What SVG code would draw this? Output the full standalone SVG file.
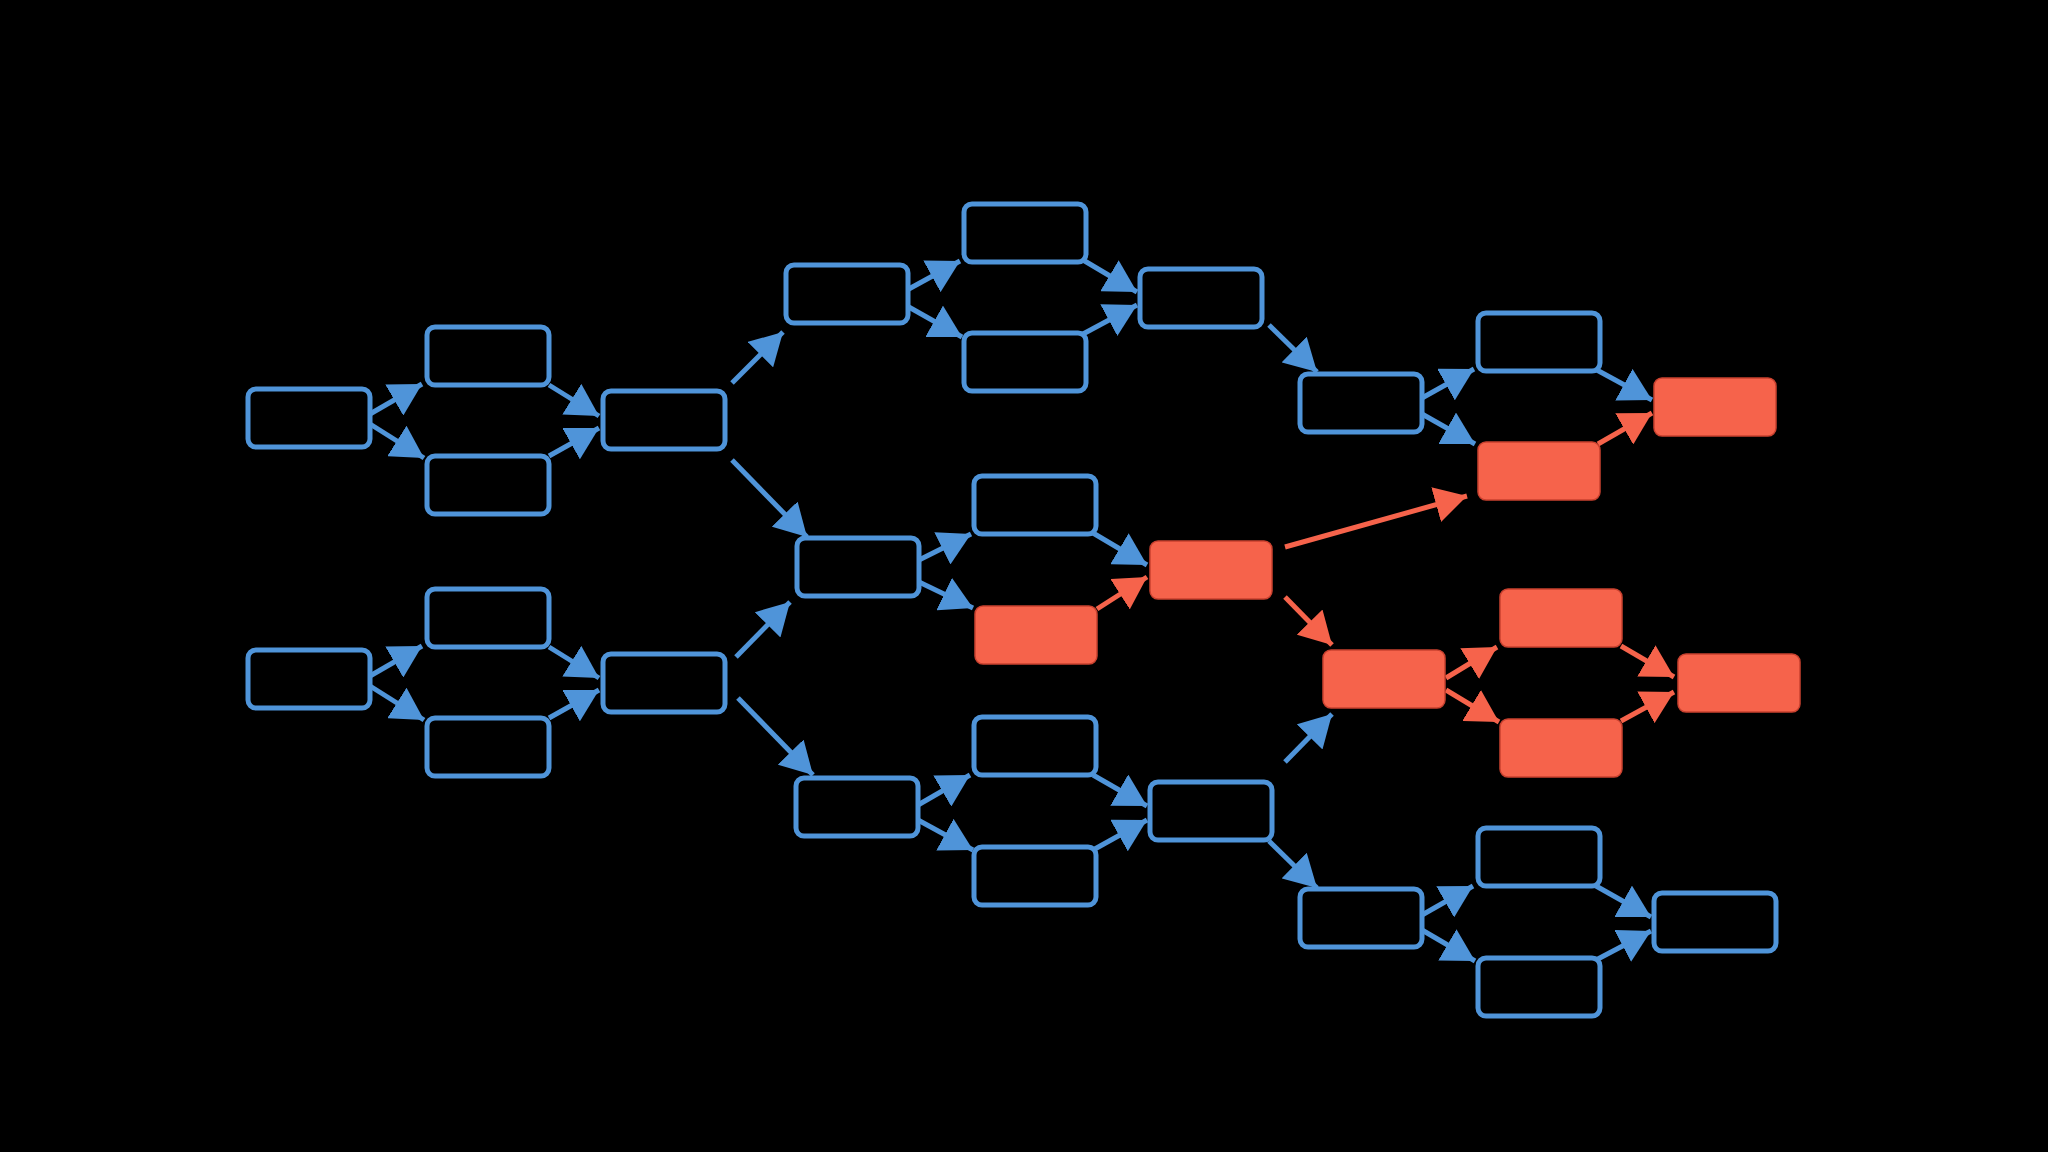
<svg xmlns="http://www.w3.org/2000/svg" width="2048" height="1152" viewBox="0 0 2048 1152">
<style>
.b{fill:#000;stroke:#4f94d9;stroke-width:5}
.r{fill:#f6634b;stroke:#c9412f;stroke-width:1.5}
.cb{stroke:#4f94d9;stroke-width:5;fill:none;marker-end:url(#hb)}
.cr{stroke:#f6634b;stroke-width:5;fill:none;marker-end:url(#hr)}
</style>
<defs>
<marker id="hb" viewBox="0 0 32 36" refX="32" refY="18" markerWidth="32" markerHeight="36" markerUnits="userSpaceOnUse" orient="auto"><path d="M0,0 L32,18 L0,36 Z" fill="#4f94d9"/></marker>
<marker id="hr" viewBox="0 0 32 36" refX="32" refY="18" markerWidth="32" markerHeight="36" markerUnits="userSpaceOnUse" orient="auto"><path d="M0,0 L32,18 L0,36 Z" fill="#f6634b"/></marker>
</defs>
<rect width="2048" height="1152" fill="#000"/>
<g id="connectors">
<line class="cb" x1="370" y1="414" x2="422" y2="384"/>
<line class="cb" x1="370" y1="424" x2="424" y2="458"/>
<line class="cb" x1="549" y1="385" x2="599" y2="416"/>
<line class="cb" x1="549" y1="456" x2="599" y2="428"/>
<line class="cb" x1="370" y1="676" x2="422" y2="646"/>
<line class="cb" x1="370" y1="686" x2="424" y2="720"/>
<line class="cb" x1="549" y1="647" x2="599" y2="678"/>
<line class="cb" x1="549" y1="718" x2="599" y2="690"/>
<line class="cb" x1="732" y1="383" x2="783" y2="332"/>
<line class="cb" x1="732" y1="460" x2="807" y2="537"/>
<line class="cb" x1="736" y1="657" x2="790" y2="602"/>
<line class="cb" x1="738" y1="698" x2="813" y2="775"/>
<line class="cb" x1="907" y1="290" x2="960" y2="261"/>
<line class="cb" x1="907" y1="306" x2="962" y2="337"/>
<line class="cb" x1="1083" y1="260" x2="1137" y2="292"/>
<line class="cb" x1="1083" y1="334" x2="1137" y2="305"/>
<line class="cb" x1="1269" y1="325" x2="1317" y2="372"/>
<line class="cb" x1="1422" y1="398" x2="1474" y2="369"/>
<line class="cb" x1="1422" y1="414" x2="1475" y2="444"/>
<line class="cb" x1="1595" y1="369" x2="1652" y2="400"/>
<line class="cr" x1="1598" y1="444" x2="1652" y2="413"/>
<line class="cb" x1="919" y1="560" x2="971" y2="534"/>
<line class="cb" x1="919" y1="582" x2="973" y2="608"/>
<line class="cb" x1="1093" y1="533" x2="1147" y2="565"/>
<line class="cr" x1="1097" y1="609" x2="1147" y2="577"/>
<line class="cr" x1="1285" y1="547" x2="1467" y2="496"/>
<line class="cr" x1="1285" y1="597" x2="1332" y2="645"/>
<line class="cb" x1="1285" y1="762" x2="1332" y2="714"/>
<line class="cr" x1="1446" y1="678" x2="1497" y2="647"/>
<line class="cr" x1="1446" y1="690" x2="1499" y2="722"/>
<line class="cr" x1="1621" y1="646" x2="1674" y2="677"/>
<line class="cr" x1="1621" y1="721" x2="1674" y2="692"/>
<line class="cb" x1="918" y1="805" x2="970" y2="775"/>
<line class="cb" x1="918" y1="820" x2="973" y2="850"/>
<line class="cb" x1="1093" y1="775" x2="1147" y2="806"/>
<line class="cb" x1="1093" y1="850" x2="1147" y2="820"/>
<line class="cb" x1="1269" y1="841" x2="1317" y2="888"/>
<line class="cb" x1="1422" y1="915" x2="1473" y2="886"/>
<line class="cb" x1="1422" y1="930" x2="1475" y2="961"/>
<line class="cb" x1="1596" y1="886" x2="1651" y2="917"/>
<line class="cb" x1="1596" y1="960" x2="1651" y2="931"/>
</g>
<g id="A1"><rect class="b" x="248" y="389" width="122" height="58" rx="8"/></g>
<g id="B1"><rect class="b" x="427" y="327" width="122" height="58" rx="8"/></g>
<g id="C1"><rect class="b" x="427" y="456" width="122" height="58" rx="8"/></g>
<g id="D1"><rect class="b" x="603" y="391" width="122" height="58" rx="8"/></g>
<g id="A2"><rect class="b" x="248" y="650" width="122" height="58" rx="8"/></g>
<g id="B2"><rect class="b" x="427" y="589" width="122" height="58" rx="8"/></g>
<g id="C2"><rect class="b" x="427" y="718" width="122" height="58" rx="8"/></g>
<g id="D2"><rect class="b" x="603" y="654" width="122" height="58" rx="8"/></g>
<g id="E1"><rect class="b" x="786" y="265" width="122" height="58" rx="8"/></g>
<g id="F1"><rect class="b" x="964" y="204" width="122" height="58" rx="8"/></g>
<g id="G1"><rect class="b" x="964" y="333" width="122" height="58" rx="8"/></g>
<g id="H1"><rect class="b" x="1140" y="269" width="122" height="58" rx="8"/></g>
<g id="I1"><rect class="b" x="1300" y="374" width="122" height="58" rx="8"/></g>
<g id="J1"><rect class="b" x="1478" y="313" width="122" height="58" rx="8"/></g>
<g id="K1"><rect class="r" x="1478" y="442" width="122" height="58" rx="8"/></g>
<g id="L1"><rect class="r" x="1654" y="378" width="122" height="58" rx="8"/></g>
<g id="E2"><rect class="b" x="797" y="538" width="122" height="58" rx="8"/></g>
<g id="F2"><rect class="b" x="974" y="476" width="122" height="58" rx="8"/></g>
<g id="G2"><rect class="r" x="975" y="606" width="122" height="58" rx="8"/></g>
<g id="H2"><rect class="r" x="1150" y="541" width="122" height="58" rx="8"/></g>
<g id="I2"><rect class="r" x="1323" y="650" width="122" height="58" rx="8"/></g>
<g id="J2"><rect class="r" x="1500" y="589" width="122" height="58" rx="8"/></g>
<g id="K2"><rect class="r" x="1500" y="719" width="122" height="58" rx="8"/></g>
<g id="L2"><rect class="r" x="1678" y="654" width="122" height="58" rx="8"/></g>
<g id="E3"><rect class="b" x="796" y="778" width="122" height="58" rx="8"/></g>
<g id="F3"><rect class="b" x="974" y="717" width="122" height="58" rx="8"/></g>
<g id="G3"><rect class="b" x="974" y="847" width="122" height="58" rx="8"/></g>
<g id="H3"><rect class="b" x="1150" y="782" width="122" height="58" rx="8"/></g>
<g id="I3"><rect class="b" x="1300" y="889" width="122" height="58" rx="8"/></g>
<g id="J3"><rect class="b" x="1478" y="828" width="122" height="58" rx="8"/></g>
<g id="K3"><rect class="b" x="1478" y="958" width="122" height="58" rx="8"/></g>
<g id="L3"><rect class="b" x="1654" y="893" width="122" height="58" rx="8"/></g>
</svg>
